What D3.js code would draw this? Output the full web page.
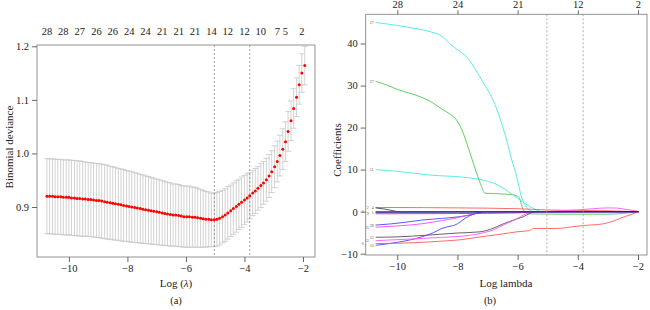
<!DOCTYPE html>
<html>
<head>
<meta charset="utf-8">
<script src="https://cdnjs.cloudflare.com/ajax/libs/d3/7.8.5/d3.min.js"></script>
<style>
body{margin:0;background:#fff}
svg{display:block}
</style>
</head>
<body>
<div id="chart"></div>
<script>
// ---- panel (a): cross-validated binomial deviance ----
var logLambda = [-10.75,-10.66,-10.56,-10.47,-10.38,-10.28,-10.19,-10.09,-10.00,-9.91,
  -9.81,-9.72,-9.63,-9.53,-9.44,-9.34,-9.25,-9.16,-9.06,-8.97,
  -8.88,-8.78,-8.69,-8.59,-8.50,-8.41,-8.31,-8.22,-8.13,-8.03,
  -7.94,-7.85,-7.75,-7.66,-7.56,-7.47,-7.38,-7.28,-7.19,-7.10,
  -7.00,-6.91,-6.81,-6.72,-6.63,-6.53,-6.44,-6.35,-6.25,-6.16,
  -6.07,-5.97,-5.88,-5.78,-5.69,-5.60,-5.50,-5.41,-5.32,-5.22,
  -5.13,-5.03,-4.94,-4.85,-4.75,-4.66,-4.57,-4.47,-4.38,-4.28,
  -4.19,-4.10,-4.00,-3.91,-3.82,-3.72,-3.63,-3.54,-3.44,-3.35,
  -3.25,-3.16,-3.07,-2.97,-2.88,-2.79,-2.69,-2.60,-2.51,-2.41,
  -2.32,-2.22,-2.13,-2.04,-1.94];

var cvm = [0.920,0.920,0.920,0.919,0.919,0.919,0.918,0.918,0.918,0.917,
  0.917,0.916,0.916,0.915,0.915,0.914,0.914,0.913,0.912,0.912,
  0.911,0.910,0.909,0.908,0.907,0.906,0.905,0.904,0.903,0.902,
  0.901,0.900,0.899,0.898,0.897,0.896,0.895,0.894,0.893,0.892,
  0.891,0.890,0.889,0.888,0.887,0.886,0.885,0.885,0.884,0.883,
  0.882,0.882,0.882,0.881,0.881,0.880,0.879,0.878,0.877,0.877,
  0.876,0.876,0.877,0.879,0.882,0.885,0.889,0.893,0.897,0.901,
  0.905,0.909,0.913,0.917,0.921,0.926,0.930,0.935,0.940,0.945,
  0.951,0.958,0.966,0.975,0.985,0.996,1.008,1.022,1.041,1.061,
  1.084,1.105,1.128,1.150,1.164];

var cvsd = [0.070,0.070,0.070,0.070,0.070,0.070,0.070,0.070,0.070,0.070,
  0.070,0.070,0.070,0.070,0.069,0.069,0.069,0.069,0.069,0.069,
  0.069,0.069,0.069,0.068,0.068,0.068,0.067,0.067,0.067,0.066,
  0.066,0.066,0.065,0.065,0.064,0.064,0.063,0.063,0.062,0.062,
  0.061,0.061,0.060,0.060,0.059,0.059,0.058,0.058,0.058,0.057,
  0.057,0.057,0.057,0.056,0.056,0.055,0.054,0.053,0.052,0.051,
  0.050,0.050,0.050,0.050,0.049,0.049,0.049,0.048,0.048,0.048,
  0.047,0.047,0.046,0.045,0.043,0.042,0.042,0.041,0.041,0.040,
  0.040,0.040,0.039,0.039,0.038,0.038,0.038,0.037,0.037,0.037,
  0.037,0.036,0.036,0.036,0.036];

// number of nonzero coefficients shown on the top axis, and where
var topDf    = ["28","28","27","26","26","24","24","21","21","21","14","12","12","10","7","5","2"];
var topDfIdx = [0,6,12,18,24,30,36,42,48,54,60,66,72,78,84,87,93];

var idxMin = 61, idx1se = 74;

var leftYTicks = [0.9,1.0,1.1,1.2];
var xTicks = [-10,-8,-6,-4,-2];

// ---- panel (b): coefficient paths ----
var pathCyanA = [[-10.72,45.0],[-10.0,44.3],[-9.5,43.7],[-9.0,43.0],[-8.85,42.7],[-8.58,42.0],[-8.3,40.3],
  [-8.09,39.0],[-7.8,37.5],[-7.58,35.8],[-7.42,34.0],[-7.1,30.2],[-6.81,26.4],[-6.6,22.5],[-6.37,17.1],
  [-6.2,12.5],[-6.03,8.3],[-5.87,3.5],[-5.70,1.0],[-5.45,0],[-1.98,0]];
var pathGreenB = [[-10.72,31.0],[-10.3,30.0],[-9.97,29.0],[-9.5,28.0],[-9.19,27.2],[-8.9,26.2],[-8.64,25.0],
  [-8.47,24.2],[-8.25,23.2],[-8.03,21.8],[-7.9,20.2],[-7.81,18.7],[-7.7,16.5],[-7.58,13.9],[-7.36,9.1],
  [-7.2,6.0],[-7.09,4.4],[-6.8,4.3],[-6.26,4.1],[-5.98,3.6],[-5.81,0.4],[-5.66,-0.5],[-4.5,-0.6],[-3.0,-0.6],[-1.98,0]];
var pathCyanC = [[-10.72,10.0],[-10.0,9.6],[-8.91,8.7],[-7.81,8.2],[-7.14,7.5],[-6.8,6.8],[-6.48,5.6],
  [-6.2,4.2],[-5.92,2.8],[-5.75,1.9],[-5.59,1.2],[-5.37,0.4],[-5.2,0],[-1.98,0]];
var pathRedD = [[-10.72,1.0],[-8.0,0.9],[-6.0,0.7],[-5.0,0.4],[-4.0,0.3],[-3.0,0.2],[-1.98,0]];
var pathBlackE = [[-10.72,0.9],[-10.4,0.6],[-10.05,0.1],[-9.9,0],[-1.98,0]];
var pathPinkG = [[-10.72,-0.5],[-8.0,-0.45],[-6.0,-0.3],[-5.3,0],[-1.98,0]];
var pathBlueH = [[-10.72,-3.2],[-10.2,-2.9],[-9.7,-2.5],[-9.19,-2.0],[-8.5,-1.6],[-8.0,-1.25],[-7.75,-1.0],
  [-7.5,-0.7],[-7.3,-0.3],[-7.15,0],[-1.98,0]];
var pathMagentaJ = [[-10.72,-3.7],[-10.0,-3.4],[-9.2,-2.9],[-8.5,-2.1],[-8.09,-1.6],[-7.75,-1.0],[-7.45,-0.5],
  [-7.2,0],[-1.98,0]];
var pathBlackK = [[-10.72,-6.1],[-10.0,-6.0],[-9.0,-5.6],[-8.05,-5.1],[-7.25,-4.8],[-6.9,-4.2],[-6.48,-2.9],
  [-6.1,-1.9],[-5.81,-1.2],[-5.59,-0.4],[-5.45,0],[-1.98,0]];
var pathBlueL = [[-10.72,-8.0],[-10.0,-7.3],[-9.19,-6.0],[-8.8,-5.0],[-8.52,-4.0],[-8.2,-3.4],[-8.09,-3.2],
  [-7.9,-2.4],[-7.75,-1.6],[-7.6,-1.0],[-7.4,-0.4],[-7.15,0],[-1.98,0]];
var pathMagentaM = [[-10.72,-6.9],[-9.5,-6.5],[-8.5,-6.1],[-7.8,-5.8],[-7.25,-5.2],[-6.8,-4.3],[-6.4,-2.9],
  [-6.0,-1.6],[-5.81,-0.8],[-5.6,-0.2],[-5.5,0],[-1.98,0]];
var pathRedN = [[-10.72,-7.6],[-9.5,-7.4],[-8.5,-7.0],[-7.92,-6.7],[-7.25,-6.0],[-6.5,-5.3],[-6.03,-4.8],
  [-5.6,-4.5],[-5.48,-4.0],[-4.7,-4.0],[-4.2,-3.6],[-3.82,-3.3],[-3.16,-2.9],[-2.8,-2.2],[-2.49,-1.3],
  [-2.2,-0.6],[-1.98,0]];
var pathMagentaP = [[-10.72,0],[-5.2,0],[-4.6,0.2],[-4.04,0.4],[-3.5,0.7],[-3.0,0.9],[-2.7,0.85],
  [-2.4,0.55],[-2.1,0.2],[-1.98,0]];
var pathNavyF = [[-10.72,-0.1],[-1.98,0]];

var coefPaths  = [pathCyanA,pathGreenB,pathCyanC,pathRedD,pathBlackE,pathPinkG,pathBlueH,pathMagentaJ,
  pathBlackK,pathBlueL,pathMagentaM,pathRedN,pathMagentaP,pathNavyF];
var pathColors = ["#45e9e9","#50c850","#45e9e9","#ff5a5a","#444444","#ee2266","#4646ff","#ff44ff",
  "#555555","#4646ff","#ff55ff","#ff5a5a","#ff55ff","#1a1a90"];
var pathLabels = ["17","27","11","4","2","9","28","25","13","16","12","6","3","1"];

var rightTopAt = [-10,-8,-6,-4,-2];
var rightTopDf = ["28","24","21","12","2"];
var rightYTicks = [-10,0,10,20,30,40];

var serif = "'Liberation Serif','Times New Roman',serif";

var svg = d3.select("#chart").append("svg")
  .attr("width",650).attr("height",310);

// scales
var xL = d3.scaleLinear().domain([-11.09,-1.59]).range([37,315]);
var yL = d3.scaleLinear().domain([0.8067,1.2024]).range([257,45]);
var xR = d3.scaleLinear().domain([-11.05,-1.70]).range([365.7,647]);
var yR = d3.scaleLinear().domain([-10.31,46.95]).range([255,14.3]);

function styleAxis(g){
  g.select(".domain").remove();
  g.selectAll(".tick line").attr("stroke","#666");
  g.selectAll("text").attr("font-family",serif).attr("font-size","10.5px").attr("fill","#222");
}

// ===== panel (a) =====
var pa = svg.append("g");

// error bars
var bars = pa.append("g").attr("stroke","#c8c8c8").attr("stroke-width",0.8);
logLambda.forEach(function(l,i){
  var x = xL(l), up = yL(cvm[i]+cvsd[i]), lo = yL(cvm[i]-cvsd[i]);
  bars.append("line").attr("x1",x).attr("x2",x).attr("y1",up).attr("y2",lo);
  bars.append("line").attr("x1",x-3).attr("x2",x+3).attr("y1",up).attr("y2",up);
  bars.append("line").attr("x1",x-3).attr("x2",x+3).attr("y1",lo).attr("y2",lo);
});

// dashed lambda.min / lambda.1se
[idxMin,idx1se].forEach(function(i){
  pa.append("line")
    .attr("x1",xL(logLambda[i])).attr("x2",xL(logLambda[i]))
    .attr("y1",45).attr("y2",257)
    .attr("stroke","#888").attr("stroke-width",0.8).attr("stroke-dasharray","2,2");
});

// red points
pa.selectAll("circle.cv").data(logLambda).enter().append("circle")
  .attr("class","cv")
  .attr("cx",function(d){return xL(d);})
  .attr("cy",function(d,i){return yL(cvm[i]);})
  .attr("r",1.5).attr("fill","#ff0000");

pa.append("rect").attr("x",37).attr("y",45).attr("width",278).attr("height",212)
  .attr("fill","none").attr("stroke","#888").attr("stroke-width",0.9);

pa.append("g").attr("transform","translate(0,257)")
  .call(d3.axisBottom(xL).tickValues(xTicks).tickSize(5).tickPadding(3).tickFormat(d3.format("d")))
  .call(styleAxis);
pa.append("g").attr("transform","translate(37,0)")
  .call(d3.axisLeft(yL).tickValues(leftYTicks).tickSize(5).tickPadding(3).tickFormat(d3.format(".1f")))
  .call(styleAxis);

// top df labels (no ticks)
pa.selectAll("text.df").data(topDf).enter().append("text")
  .attr("class","df")
  .attr("x",function(d,i){return xL(logLambda[topDfIdx[i]]);})
  .attr("y",35)
  .attr("text-anchor","middle")
  .attr("font-family",serif).attr("font-size","10.5px").attr("fill","#222")
  .text(function(d){return d;});

pa.append("text")
  .attr("transform","translate(13,147) rotate(-90)")
  .attr("text-anchor","middle")
  .attr("font-family",serif).attr("font-size","11px").attr("fill","#222")
  .text("Binomial deviance");

var xlab = pa.append("text").attr("x",176).attr("y",287).attr("text-anchor","middle")
  .attr("font-family",serif).attr("font-size","11px").attr("fill","#222");
xlab.append("tspan").text("Log (");
xlab.append("tspan").attr("font-style","italic").text("λ");
xlab.append("tspan").text(")");

pa.append("text").attr("x",176).attr("y",304).attr("text-anchor","middle")
  .attr("font-family",serif).attr("font-size","10.5px").attr("fill","#222").text("(a)");

// ===== panel (b) =====
var pb = svg.append("g");

pb.append("clipPath").attr("id","clipR").append("rect")
  .attr("x",365.7).attr("y",14.3).attr("width",281.3).attr("height",240.7);

var line = d3.line()
  .curve(d3.curveMonotoneX)
  .x(function(d){return xR(d[0]);})
  .y(function(d){return yR(d[1]);});

pb.append("g").attr("clip-path","url(#clipR)")
  .selectAll("path").data(coefPaths).enter().append("path")
  .attr("d",line)
  .attr("fill","none")
  .attr("stroke",function(d,i){return pathColors[i];})
  .attr("stroke-width",function(d,i){return i===coefPaths.length-1 ? 1.4 : 0.9;});

// tiny variable labels at path starts; stagger the ones that would collide
var labelPos = coefPaths.map(function(d,i){return {i:i, y:yR(d[0][1])};})
  .sort(function(a,b){return a.y-b.y;});
var lastY = -99, shift = 0;
labelPos.forEach(function(p){
  if (p.y - lastY < 4.5) { shift = (shift + 1) % 3; } else { shift = 0; }
  p.x = xR(-10.72) - 2 - shift*5;
  lastY = p.y;
});
pb.selectAll("text.vlab").data(labelPos).enter().append("text")
  .attr("class","vlab")
  .attr("x",function(p){return p.x;})
  .attr("y",function(p){return p.y+1.5;})
  .attr("text-anchor","end")
  .attr("font-family",serif).attr("font-size","4px").attr("fill","#555")
  .text(function(p){return pathLabels[p.i];});

[idxMin,idx1se].forEach(function(i){
  pb.append("line")
    .attr("x1",xR(logLambda[i])).attr("x2",xR(logLambda[i]))
    .attr("y1",14.3).attr("y2",255)
    .attr("stroke","#999").attr("stroke-width",0.8).attr("stroke-dasharray","2,2");
});

pb.append("rect").attr("x",365.7).attr("y",14.3).attr("width",281.3).attr("height",240.7)
  .attr("fill","none").attr("stroke","#888").attr("stroke-width",0.9);

pb.append("g").attr("transform","translate(0,255)")
  .call(d3.axisBottom(xR).tickValues(xTicks).tickSize(5).tickPadding(3).tickFormat(d3.format("d")))
  .call(styleAxis);
pb.append("g").attr("transform","translate(365.7,0)")
  .call(d3.axisLeft(yR).tickValues(rightYTicks).tickSize(5).tickPadding(3).tickFormat(d3.format("d")))
  .call(styleAxis);
pb.append("g").attr("transform","translate(0,14.3)")
  .call(d3.axisTop(xR).tickValues(rightTopAt).tickSize(4).tickPadding(2)
    .tickFormat(function(d,i){return rightTopDf[i];}))
  .call(styleAxis);

pb.append("text")
  .attr("transform","translate(341,150) rotate(-90)")
  .attr("text-anchor","middle")
  .attr("font-family",serif).attr("font-size","11px").attr("fill","#222")
  .text("Coefficients");

pb.append("text").attr("x",506).attr("y",287).attr("text-anchor","middle")
  .attr("font-family",serif).attr("font-size","11px").attr("fill","#222").text("Log lambda");

pb.append("text").attr("x",490).attr("y",304).attr("text-anchor","middle")
  .attr("font-family",serif).attr("font-size","10.5px").attr("fill","#222").text("(b)");
</script>
</body>
</html>
